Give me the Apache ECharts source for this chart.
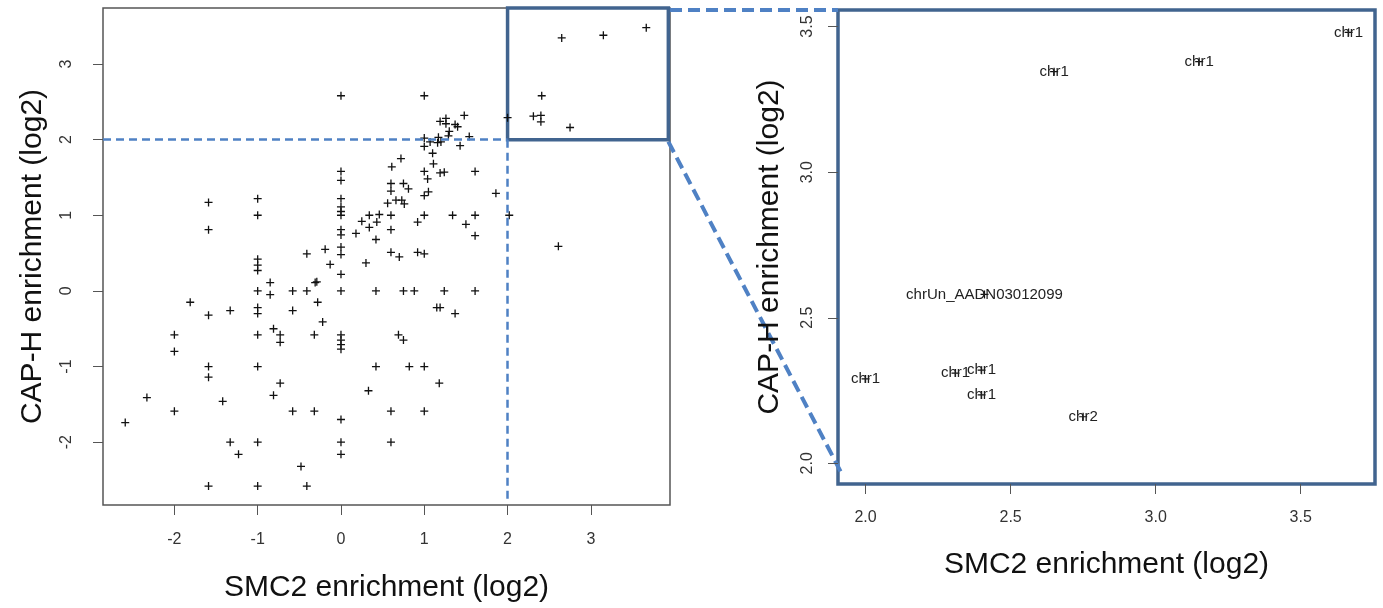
<!DOCTYPE html>
<html>
<head>
<meta charset="utf-8">
<script src="https://cdn.jsdelivr.net/npm/echarts@6/dist/echarts.min.js"></script>
<style>
  html, body { margin: 0; padding: 0; background: #fff; }
  #chart { width: 1383px; height: 608px; }
</style>
</head>
<body>
<div id="chart"></div>
<script>
// ---- Data: left overview (SMC2 log2 vs CAP-H log2), points outside the zoom box ----
const smc2 = [
  0.00, 1.00, 1.48, 1.19, 1.26, 1.26, 1.37, 1.40, 1.30, 1.29, 1.54, 1.00, 1.17, 1.07, 1.16, 1.20,
  1.00, 1.43, 1.10, 0.72, 1.11, 0.61, 0.00, 1.00, 1.19, 1.24, 1.61, 0.00, 1.04, 0.60, 0.60, 0.75,
  0.81, 1.05, 1.00, 1.86, 0.00, 0.00, 0.00, 0.00, 0.66, 0.73, 0.76, 0.56, -1.00, -1.00, -1.59, -1.59,
  0.34, 0.46, 0.60, 1.00, 1.34, 1.61, 2.02, 0.25, 0.34, 0.43, 0.92, 0.60, 1.50, 1.61, 0.00, 0.00,
  0.18, 0.42, 0.00, 0.00, -0.19, -0.41, 0.60, 0.70, 0.92, 1.00, -0.13, 0.30, 0.00, -1.00, -1.00, -1.00,
  -0.85, -0.31, -0.29, -1.00, -0.85, -0.58, -0.41, 0.00, 0.42, 0.75, 0.88, 1.24, 1.61,
  -1.81, -1.59, -1.33, -1.00, -1.00, -0.58, -0.28, -0.22, 1.15, 1.19, 1.37, -2.00, -2.00, -1.00, -0.81, -0.73,
  -0.73, -0.32, 0.00, 0.00, 0.00, 0.00, 0.69, 0.75, -1.59, -1.59, -1.00, -0.73, -0.81, 0.42, 0.82, 1.00,
  1.18, 0.33, -2.33, -2.00, -1.42, -0.58, -0.32, 0.00, 0.60, 1.00, -2.59, -1.33, -1.00, 0.00, 0.60, -1.23,
  0.00, -0.48, -1.59, -1.00, -0.41, 2.61
];
const caph = [
  2.58, 2.58, 2.32, 2.24, 2.28, 2.21, 2.20, 2.17, 2.11, 2.05, 2.04, 2.02, 2.03, 1.97, 1.96, 1.97,
  1.91, 1.92, 1.82, 1.75, 1.68, 1.64, 1.58, 1.58, 1.56, 1.57, 1.58, 1.46, 1.48, 1.42, 1.32, 1.42,
  1.35, 1.31, 1.26, 1.29, 1.22, 1.11, 1.05, 1.00, 1.20, 1.20, 1.15, 1.16, 1.22, 1.00, 1.17, 0.81,
  1.00, 1.01, 1.00, 1.00, 1.00, 1.00, 1.00, 0.92, 0.84, 0.91, 0.91, 0.81, 0.88, 0.73, 0.81, 0.74,
  0.76, 0.68, 0.58, 0.48, 0.55, 0.49, 0.51, 0.45, 0.51, 0.49, 0.35, 0.37, 0.22, 0.42, 0.34, 0.27,
  0.11, 0.11, 0.12, 0.00, -0.05, 0.00, 0.00, 0.00, 0.00, 0.00, 0.00, 0.00, 0.00,
  -0.15, -0.32, -0.26, -0.22, -0.30, -0.26, -0.15, -0.41, -0.22, -0.22, -0.30, -0.58, -0.80, -0.58, -0.50, -0.58,
  -0.68, -0.58, -0.58, -0.65, -0.71, -0.77, -0.58, -0.65, -1.00, -1.14, -1.00, -1.22, -1.38, -1.00, -1.00, -1.00,
  -1.22, -1.32, -1.41, -1.59, -1.46, -1.59, -1.59, -1.70, -1.59, -1.59, -1.74, -2.00, -2.00, -2.00, -2.00, -2.16,
  -2.16, -2.32, -2.58, -2.58, -2.58, 0.59
];

// ---- Data: points inside the zoom box (both enrichments > 2), with labels ----
const topLabels = ['chr1', 'chr1', 'chr1', 'chr1', 'chrUn_AADN03012099', 'chr2', 'chr1', 'chr1', 'chr1'];
const topSMC2   = [2.00, 2.31, 2.40, 2.40, 2.41, 2.75, 2.65, 3.15, 3.665];
const topCAPH   = [2.29, 2.31, 2.32, 2.235, 2.58, 2.16, 3.345, 3.38, 3.48];

// ---- Axis ticks / ranges ----
const leftTicks = [-2, -1, 0, 1, 2, 3];
const rightTicks = [2.0, 2.5, 3.0, 3.5];
const zoomCut = 2;            // threshold used for the zoom box
const leftX = [-2.857, 3.95];
const leftY = [-2.83, 3.74];
const rightX = [1.905, 3.756];
const rightY = [1.929, 3.557];

const plus = 'path://M0,5L10,5M5,0L5,10';
const FONT = 'Liberation Sans, Arial, sans-serif';
const blueBox = '#41648f';
const blueDash = '#4f81c4';

const leftData = smc2.map((v, i) => [v, caph[i]])
  .concat(topSMC2.map((v, i) => [v, topCAPH[i]]));
const rightData = topSMC2.map((v, i) => [v, topCAPH[i]]);

const chart = echarts.init(document.getElementById('chart'), null, { renderer: 'canvas' });

function axisCommon(ticks, fmt, margin, rotate) {
  return {
    axisLine: { show: false, onZero: false },
    splitLine: { show: false },
    axisTick: { show: true, length: 10, customValues: ticks, lineStyle: { color: '#555', width: 1 } },
    axisLabel: {
      customValues: ticks, formatter: fmt, margin: margin, rotate: rotate || 0,
      fontSize: 16, color: '#333', fontFamily: FONT
    }
  };
}

const option = {
  animation: false,
  backgroundColor: '#fff',
  grid: [
    { left: 103, top: 8, width: 567, height: 497, show: true, borderColor: '#555', borderWidth: 1.5, backgroundColor: 'transparent' },
    { left: 838, top: 10, width: 537, height: 474, show: true, borderColor: blueBox, borderWidth: 3.5, backgroundColor: 'transparent' }
  ],
  xAxis: [
    Object.assign({
      type: 'value', gridIndex: 0, min: leftX[0], max: leftX[1], position: 'bottom',
      name: 'SMC2 enrichment (log2)', nameLocation: 'middle', nameGap: 68,
      nameTextStyle: { fontSize: 30, color: '#111', fontFamily: FONT }
    }, axisCommon(leftTicks, v => String(v), 27)),
    Object.assign({
      type: 'value', gridIndex: 1, min: rightX[0], max: rightX[1], position: 'bottom',
      name: 'SMC2 enrichment (log2)', nameLocation: 'middle', nameGap: 66,
      nameTextStyle: { fontSize: 30, color: '#111', fontFamily: FONT }
    }, axisCommon(rightTicks, v => v.toFixed(1), 26))
  ],
  yAxis: [
    Object.assign({
      type: 'value', gridIndex: 0, min: leftY[0], max: leftY[1], position: 'left',
      name: 'CAP-H enrichment (log2)', nameLocation: 'middle', nameGap: 55,
      nameTextStyle: { fontSize: 30, color: '#111', fontFamily: FONT }
    }, axisCommon(leftTicks, v => String(v), 28, 90)),
    Object.assign({
      type: 'value', gridIndex: 1, min: rightY[0], max: rightY[1], position: 'left',
      name: 'CAP-H enrichment (log2)', nameLocation: 'middle', nameGap: 53,
      nameTextStyle: { fontSize: 30, color: '#111', fontFamily: FONT }
    }, axisCommon(rightTicks, v => v.toFixed(1), 22, 90))
  ],
  series: [
    {
      type: 'scatter', xAxisIndex: 0, yAxisIndex: 0, data: leftData,
      symbol: plus, symbolSize: 8, silent: true,
      itemStyle: { color: 'transparent', borderColor: '#111', borderWidth: 1.3, opacity: 1 },
      markLine: {
        silent: true, symbol: 'none', animation: false,
        lineStyle: { type: [8, 5], color: blueDash, width: 2.5 },
        label: { show: false },
        data: [
          [{ coord: [leftX[0], zoomCut] }, { coord: [zoomCut, zoomCut] }],
          [{ coord: [zoomCut, zoomCut] }, { coord: [zoomCut, leftY[0] + 0.08] }]
        ]
      },
      markArea: {
        silent: true,
        itemStyle: { color: 'transparent', borderColor: blueBox, borderWidth: 3.5 },
        label: { show: false },
        data: [[{ coord: [zoomCut, zoomCut] }, { coord: [leftX[1] - 0.02, leftY[1]] }]]
      }
    },
    {
      type: 'scatter', xAxisIndex: 1, yAxisIndex: 1, data: rightData,
      symbol: plus, symbolSize: 8, silent: true,
      itemStyle: { color: 'transparent', borderColor: '#111', borderWidth: 1.2, opacity: 1 },
      label: {
        show: true, position: 'inside',
        formatter: p => topLabels[p.dataIndex],
        fontSize: 15, color: '#222', fontFamily: FONT
      }
    }
  ]
};
chart.setOption(option);

// connecting dashed lines between the zoom box and the zoomed panel
const a1 = chart.convertToPixel({ gridIndex: 0 }, [leftX[1], leftY[1]]);
const b1 = chart.convertToPixel({ gridIndex: 1 }, [rightX[0], rightY[1]]);
const a2 = chart.convertToPixel({ gridIndex: 0 }, [leftX[1] - 0.02, zoomCut]);
const b2 = chart.convertToPixel({ gridIndex: 1 }, [rightX[0] + 0.01, 1.97]);
chart.setOption({
  graphic: [
    { type: 'line', silent: true, shape: { x1: a1[0], y1: a1[1] + 2, x2: b1[0], y2: b1[1] }, style: { stroke: blueDash, lineWidth: 4, lineDash: [12, 6] } },
    { type: 'line', silent: true, shape: { x1: a2[0], y1: a2[1] + 2, x2: b2[0], y2: b2[1] }, style: { stroke: blueDash, lineWidth: 4, lineDash: [12, 6] } }
  ]
});
</script>
</body>
</html>
